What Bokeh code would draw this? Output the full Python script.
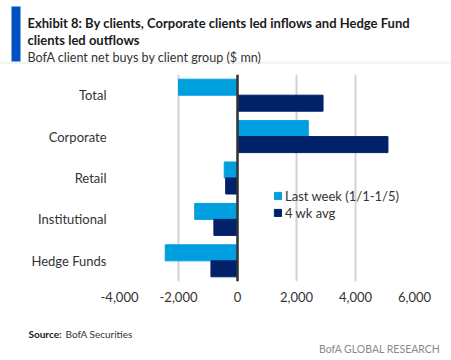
from bokeh.plotting import figure
from bokeh.layouts import column, row
from bokeh.models import (FactorRange, Range1d, FixedTicker, NumeralTickFormatter,
                          Span, ColumnDataSource)
from bokeh.core.properties import value
from bokeh.transform import dodge
from bokeh.embed import file_html
from bokeh.resources import INLINE

categories = ["Total", "Corporate", "Retail", "Institutional", "Hedge Funds"]
last_week = [-2000, 2400, -450, -1450, -2450]
four_wk_avg = [2900, 5100, -400, -800, -900]
x_ticks = [-4000, -2000, 0, 2000, 4000, 6000]
series_names = ["Last week (1/1-1/5)", "4 wk avg"]

FONT = "Lato"
LIGHT = "#009fdf"
DARK = "#012169"
TXT = "#333333"
W = 451


def blank(h):
    f = figure(width=W, height=h, x_range=Range1d(0, W), y_range=Range1d(h, 0),
               output_backend="svg", toolbar_location=None,
               x_axis_location=None, y_axis_location=None, min_border=0,
               min_border_left=0, min_border_right=0, min_border_top=0, min_border_bottom=0)
    f.outline_line_color = None
    f.grid.grid_line_color = None
    f.border_fill_color = "white"
    return f


def txt(f, x, y, text, size, bold=False, color="#1a1a1a", align="left"):
    f.text(x=[x], y=[y], text=[text], text_font=value(FONT), text_font_size=size,
           text_font_style="bold" if bold else "normal", text_color=color,
           text_align=align, text_baseline="alphabetic")


# ---- header ----
head = blank(74)
head.quad(left=[0], right=[W], top=[61], bottom=[63.5], fill_color="#f4f4f4", line_color=None)
head.quad(left=[11], right=[20], top=[6], bottom=[61], fill_color="#0052c2", line_color=None)
txt(head, 27, 22, "Exhibit 8: By clients, Corporate clients led inflows and Hedge Fund", "13px", True)
txt(head, 27, 39, "clients led outflows", "13px", True)
txt(head, 27, 56.5, "BofA client net buys by client group ($ mn)", "12.6px", False, TXT)

# ---- main chart ----
src = ColumnDataSource(dict(cat=categories, lw=last_week, avg=four_wk_avg))
p = figure(width=W, height=236, y_range=FactorRange(*reversed(categories)),
           x_range=Range1d(-4000, 6000), output_backend="svg", toolbar_location=None,
           min_border_left=119, min_border_right=37, min_border_top=0, min_border_bottom=29)
p.outline_line_color = None
p.background_fill_color = "white"
p.border_fill_color = "white"

p.hbar(y=dodge("cat", 0.193, range=p.y_range), right="lw", left=0, height=0.387,
       source=src, color=LIGHT, legend_label=series_names[0])
p.hbar(y=dodge("cat", -0.193, range=p.y_range), right="avg", left=0, height=0.387,
       source=src, color=DARK, legend_label=series_names[1])

p.add_layout(Span(location=0, dimension="height", line_color="#333333", line_width=2.5))

p.xaxis.ticker = FixedTicker(ticks=x_ticks)
p.xaxis.formatter = NumeralTickFormatter(format="0,0")
for ax in (p.xaxis, p.yaxis):
    ax.axis_line_color = None
    ax.major_tick_line_color = None
    ax.minor_tick_line_color = None
    ax.major_tick_out = 0
    ax.major_tick_in = 0
    ax.major_label_text_font = FONT
    ax.major_label_text_font_size = "13px"
    ax.major_label_text_color = TXT
p.yaxis.major_label_standoff = 13
p.xaxis.major_label_standoff = 10
p.xgrid.grid_line_color = "#d3d3d3"
p.xgrid.grid_line_width = 2
p.ygrid.grid_line_color = None

lg = p.legend[0]
lg.location = (154, 60)
lg.padding = 0
lg.margin = 0
lg.spacing = 0
lg.border_line_color = None
lg.background_fill_alpha = 0
lg.glyph_width = 9
lg.glyph_height = 9
lg.label_standoff = 3
lg.label_height = 17
lg.label_text_font = FONT
lg.label_text_font_size = "13px"
lg.label_text_color = TXT

# ---- footer ----
foot = blank(50)
txt(foot, 28, 23.3, "Source:", "10px", True, "#1a1a1a")
txt(foot, 65, 23.3, "BofA Securities", "10px", False, TXT)
txt(foot, 440, 38.7, "BofA GLOBAL RESEARCH", "10.5px", False, "#8a8a8a", "right")

layout = column(row(head), p, row(foot), spacing=0)
open("out.html", "w").write(file_html(layout, INLINE))
